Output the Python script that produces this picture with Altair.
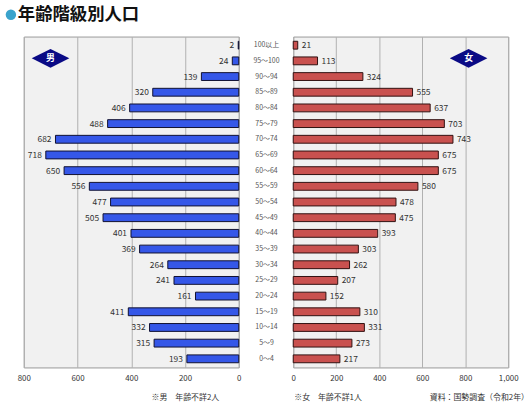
import altair as alt
import pandas as pd

ages = ["100以上", "95～100", "90～94", "85～89", "80～84", "75～79", "70～74",
        "65～69", "60～64", "55～59", "50～54", "45～49", "40～44", "35～39",
        "30～34", "25～29", "20～24", "15～19", "10～14", "5～9", "0～4"]
male = [2, 24, 139, 320, 406, 488, 682, 718, 650, 556, 477, 505, 401, 369,
        264, 241, 161, 411, 332, 315, 193]
female = [21, 113, 324, 555, 637, 703, 743, 675, 675, 580, 478, 475, 393, 303,
          262, 207, 152, 310, 331, 273, 217]
left_ticks = [0, 200, 400, 600, 800]
right_ticks = [0, 200, 400, 600, 800, 1000]

title_text = "年齢階級別人口"
note_m = "※男　年齢不詳2人"
note_f = "※女　年齢不詳1人"
source = "資料：国勢調査（令和2年）"

FONT = "Noto Sans CJK JP"
df = pd.DataFrame({"age": ages, "male": male, "female": female})

W, H = 217, 334
yenc = alt.Y("age:N", sort=ages, axis=None,
             scale=alt.Scale(paddingInner=0.5, paddingOuter=0.3))

def one(txt):
    return alt.Chart(pd.DataFrame({"t": [txt]}))

diamond = "M -1 0 L 0 -0.5 L 1 0 L 0 0.5 Z"
axis_common = dict(grid=True, gridColor="#b0b0b0", gridWidth=1, domain=False,
                   ticks=False, labelFont=FONT, labelFontSize=8, labelColor="#333",
                   labelPadding=7, labelFlush=False, title=None, labelOverlap=False)

# left (male)
lx = alt.X("male:Q", scale=alt.Scale(domain=[0, 800], reverse=True, nice=False),
           axis=alt.Axis(values=left_ticks, format=",d", **axis_common))
lbars = alt.Chart(df).mark_bar(color="#3557e8", stroke="#101030", strokeWidth=1).encode(
    x=lx, y=yenc)
llab = alt.Chart(df).mark_text(align="right", dx=-4, font=FONT, fontSize=8.5,
                               color="#333").encode(x=lx, y=yenc, text="male:Q")
tcirc = one("c").mark_circle(color="#3aa3cc", size=110, opacity=1).encode(
    x=alt.value(-13), y=alt.value(-22))
ttext = one(title_text).mark_text(align="left", baseline="middle", font=FONT,
                                  fontSize=17.5, fontWeight="bold", color="#111").encode(
    x=alt.value(-6), y=alt.value(-22), text="t:N")
micon = one("男").mark_point(shape=diamond, size=1444, filled=True, color="#0a0a85",
                              opacity=1).encode(x=alt.value(27), y=alt.value(22))
mtext = one("男").mark_text(font=FONT, fontSize=9, fontWeight="bold", color="white").encode(
    x=alt.value(27), y=alt.value(22), text="t:N")
mnote = one(note_m).mark_text(align="left", font=FONT, fontSize=8, color="#333").encode(
    x=alt.value(129), y=alt.value(365), text="t:N")
left = alt.layer(lbars, llab, tcirc, ttext, micon, mtext, mnote).properties(
    width=W, height=H,
    view=alt.ViewBackground(fill="#f1f1f1", stroke="#999999", strokeWidth=1))

# middle labels
mid = alt.Chart(df).mark_text(font=FONT, fontSize=7, color="#555").encode(
    y=yenc, text="age:N", x=alt.value(25)).properties(
    width=49, height=H, view=alt.ViewBackground(strokeWidth=0))

# right (female)
rx = alt.X("female:Q", scale=alt.Scale(domain=[0, 1000], nice=False),
           axis=alt.Axis(values=right_ticks, format=",d", **axis_common))
rbars = alt.Chart(df).mark_bar(color="#c9514f", stroke="#301010", strokeWidth=1).encode(
    x=rx, y=yenc)
rlab = alt.Chart(df).mark_text(align="left", dx=4, font=FONT, fontSize=8.5,
                               color="#333").encode(x=rx, y=yenc, text="female:Q")
ficon = one("女").mark_point(shape=diamond, size=1444, filled=True, color="#0a0a85",
                              opacity=1).encode(x=alt.value(177), y=alt.value(22))
ftext = one("女").mark_text(font=FONT, fontSize=9, fontWeight="bold", color="white").encode(
    x=alt.value(177), y=alt.value(22), text="t:N")
fnote = one(note_f).mark_text(align="left", font=FONT, fontSize=8, color="#333").encode(
    x=alt.value(1), y=alt.value(365), text="t:N")
snote = one(source).mark_text(align="right", font=FONT, fontSize=8, color="#333").encode(
    x=alt.value(238), y=alt.value(365), text="t:N")
right = alt.layer(rbars, rlab, ficon, ftext, fnote, snote).properties(
    width=W, height=H,
    view=alt.ViewBackground(fill="#f1f1f1", stroke="#999999", strokeWidth=1))

chart = alt.hconcat(left, mid, right, spacing=0).resolve_scale(
    x="independent", y="shared").properties(
    padding={"left": 5, "top": 3, "right": 0, "bottom": 0},
    autosize=alt.AutoSizeParams(type="pad")).configure_view(strokeWidth=0)

chart.save("out.html", embed_options={"renderer": "svg", "actions": False})
